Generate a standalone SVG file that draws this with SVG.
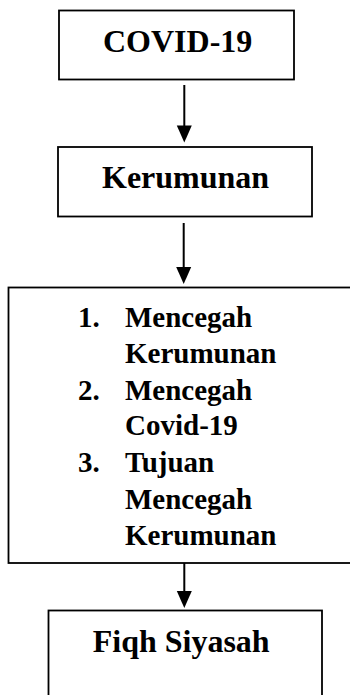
<svg xmlns="http://www.w3.org/2000/svg" width="350" height="695" viewBox="0 0 350 695">
<defs>
<style>
.box{fill:#fff;stroke:#000;stroke-width:1.8}
.t{font-family:"Liberation Serif","Times New Roman",serif;font-weight:bold;fill:#000}
.big{font-size:32px}
.li{font-size:29px}
.con{stroke:#000;stroke-width:2;fill:none}
</style>
<marker id="ah" markerWidth="8" markerHeight="9" refX="7.5" refY="4.5" orient="auto" markerUnits="userSpaceOnUse" viewBox="0 0 8 9">
<path d="M0,0 L8,4.5 L0,9 Z" fill="#000"/>
</marker>
<path id="head" d="M-7.5,0 L7.5,0 L0,17 Z" fill="#000"/>
</defs>
<rect width="350" height="695" fill="#fff"/>
<g id="connectors">
<line class="con" x1="184.3" y1="85" x2="184.3" y2="126"/>
<use href="#head" x="184.3" y="125.5"/>
<line class="con" x1="183.7" y1="223" x2="183.7" y2="268"/>
<use href="#head" x="183.7" y="267"/>
<line class="con" x1="184.3" y1="563" x2="184.3" y2="592"/>
<use href="#head" x="184.3" y="591"/>
</g>
<g id="covid">
<rect class="box" x="59" y="10.5" width="235" height="69"/>
<text class="t big" x="103" y="52">COVID-19</text>
</g>
<g id="kerumunan">
<rect class="box" x="58" y="147" width="254" height="69.5"/>
<text class="t big" x="102" y="188">Kerumunan</text>
</g>
<g id="tujuan">
<rect class="box" x="8.5" y="287.5" width="350" height="275.5"/>
<text class="t li" x="78" y="326.7">1.</text>
<text class="t li" x="125" y="326.7">Mencegah</text>
<text class="t li" x="125" y="363">Kerumunan</text>
<text class="t li" x="78" y="399.5">2.</text>
<text class="t li" x="125" y="399.5">Mencegah</text>
<text class="t li" x="125" y="435">Covid-19</text>
<text class="t li" x="78" y="472">3.</text>
<text class="t li" x="125" y="472">Tujuan</text>
<text class="t li" x="125" y="509">Mencegah</text>
<text class="t li" x="125" y="545">Kerumunan</text>
</g>
<g id="fiqh">
<rect class="box" x="48.5" y="610.5" width="273.5" height="100"/>
<text class="t big" x="92.7" y="651.7">Fiqh Siyasah</text>
</g>
</svg>
